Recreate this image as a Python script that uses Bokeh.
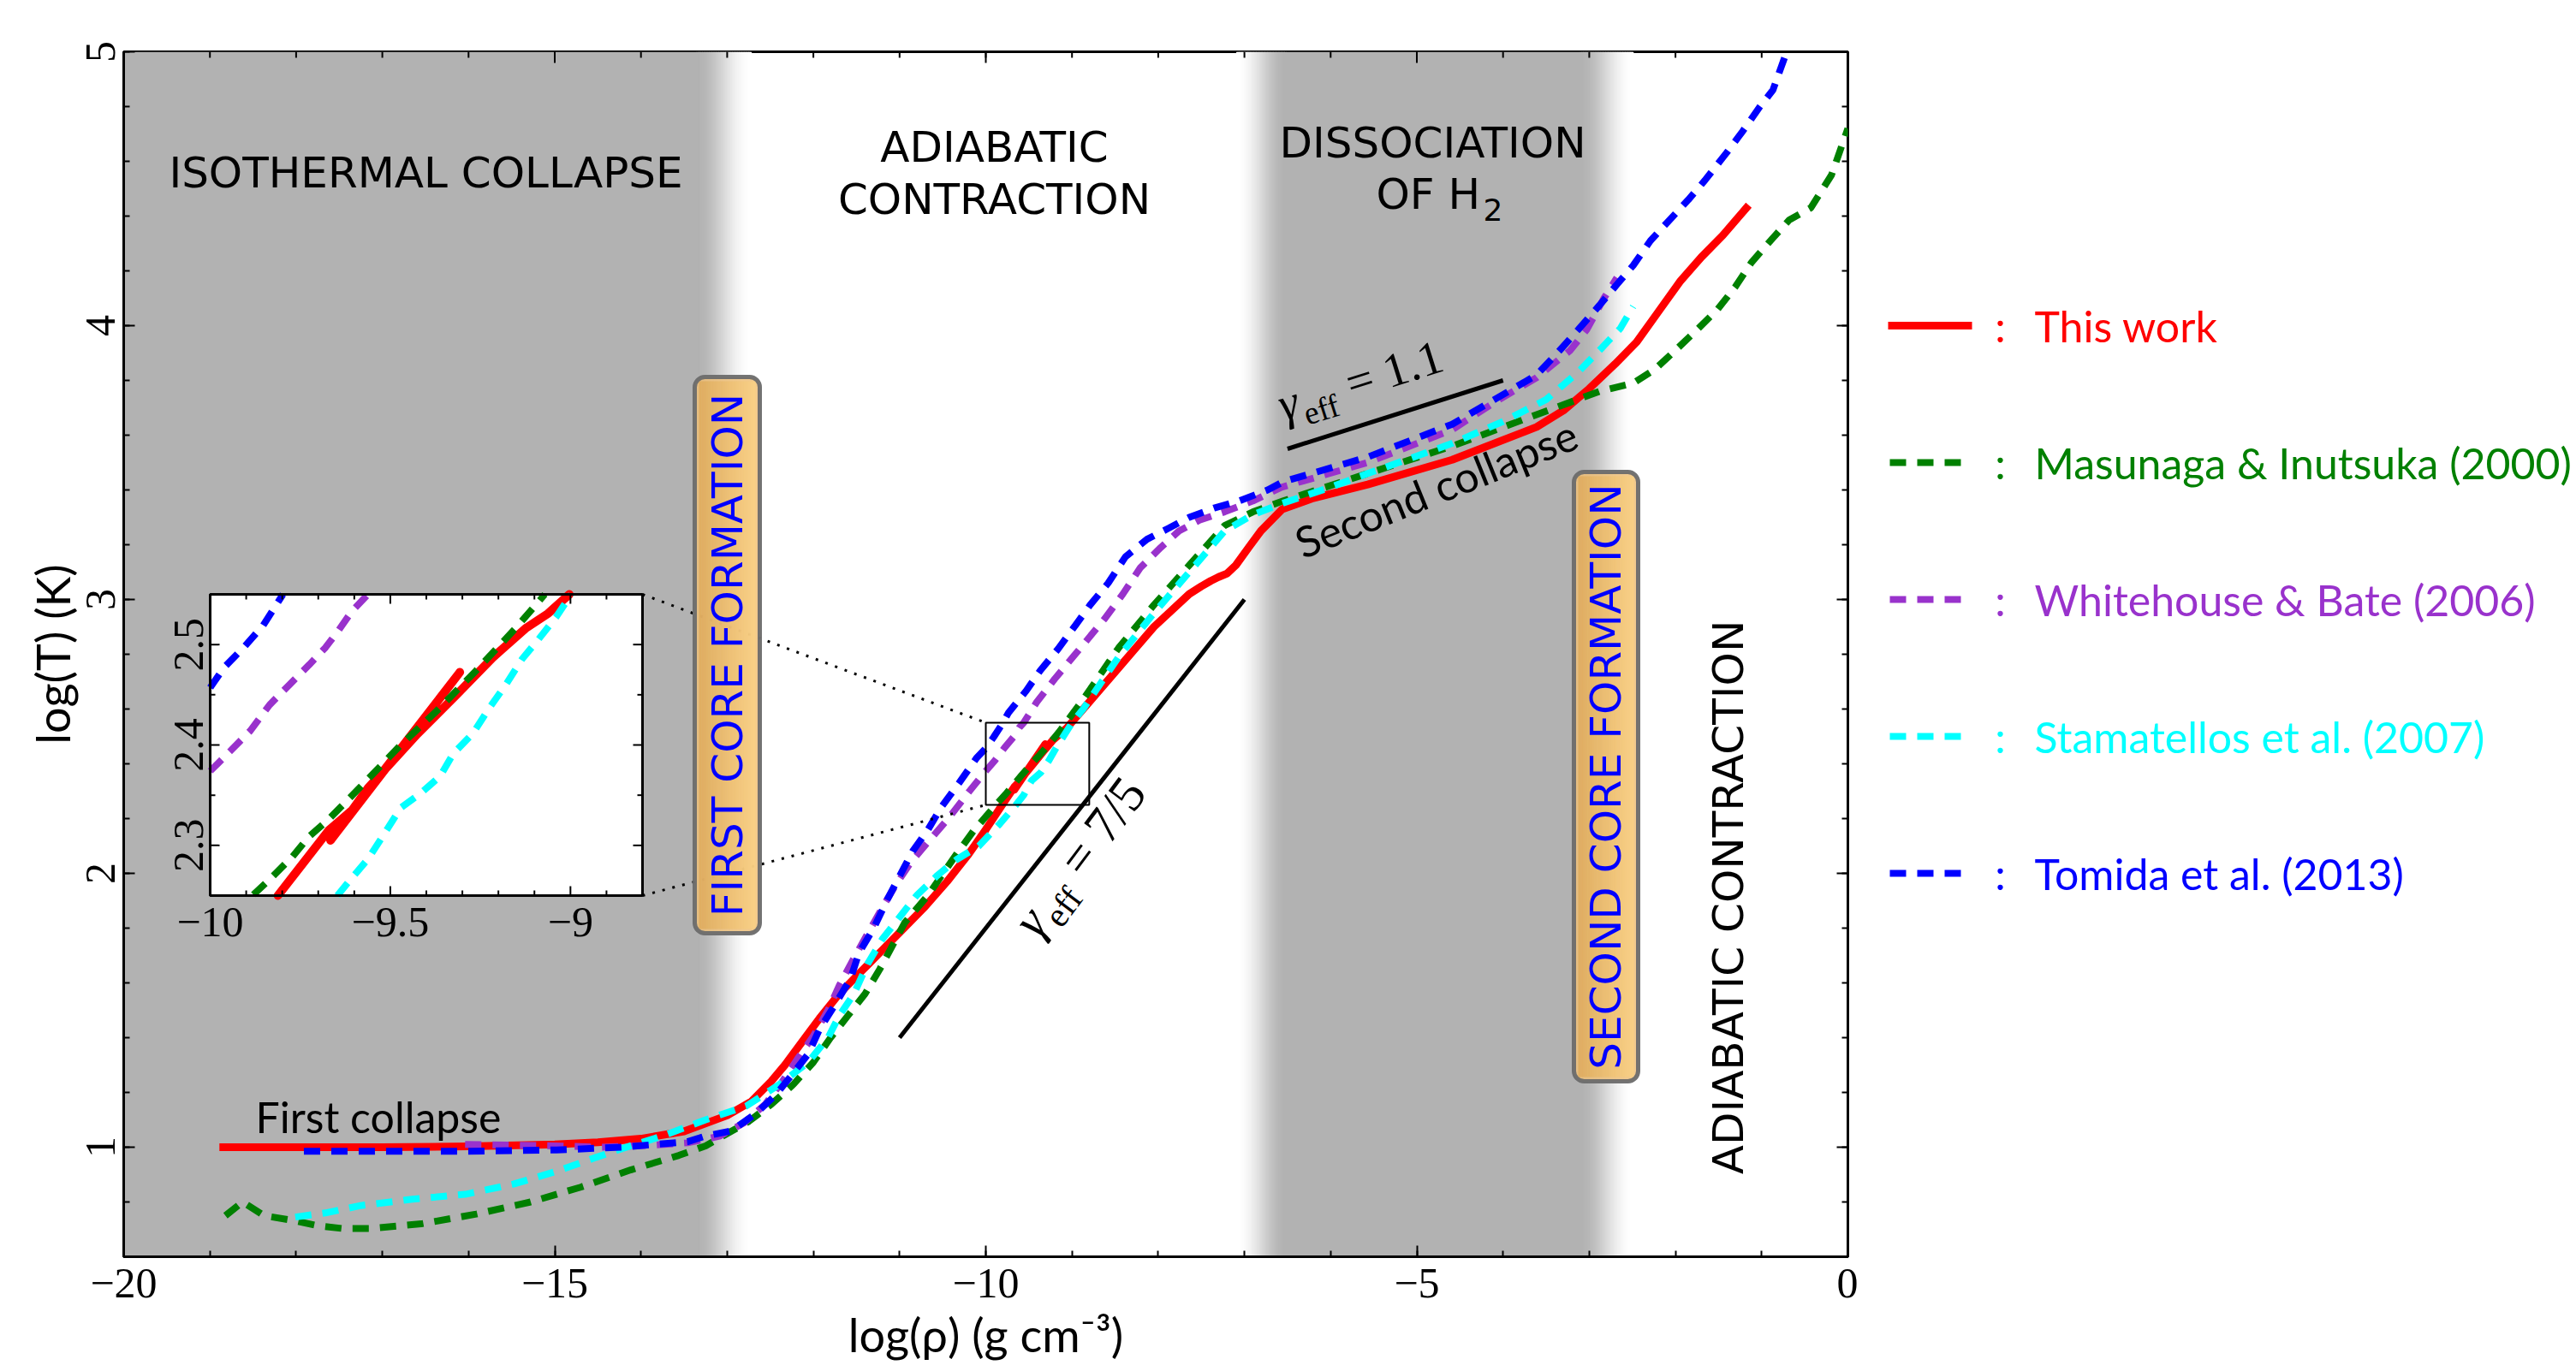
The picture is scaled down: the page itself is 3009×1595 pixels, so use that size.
import math
import numpy as np
from bokeh.plotting import figure
from bokeh.models import Range1d, FixedTicker, Label, CustomJSTickFormatter
from bokeh.layouts import row
from bokeh.embed import file_html
from bokeh.resources import INLINE
from bokeh.core.properties import value

# ---------------- data ----------------
this_work_x = [-18.89, -17.0, -16.0, -15.0, -14.5, -14.0, -13.5, -13.0, -12.72, -12.49, -12.33,
               -12.13, -11.93, -11.70, -11.45, -11.20, -10.95, -10.70, -10.45, -10.20, -10.0,
               -9.81, -9.67, -9.60, -9.31, -9.67, -9.56, -9.42, -9.32, -9.22, -9.06, -8.87,
               -8.46, -8.05, -7.64, -7.50, -7.39, -7.30, -7.20, -7.10, -6.95, -6.81, -6.56,
               -6.20, -5.57, -4.59, -3.61, -3.30, -3.00, -2.70, -2.45, -2.20, -1.95, -1.70,
               -1.45, -1.15]
this_work_y = [1.0, 1.0, 1.003, 1.01, 1.018, 1.031, 1.058, 1.116, 1.167, 1.24, 1.30,
               1.385, 1.47, 1.56, 1.64, 1.72, 1.80, 1.88, 1.97, 2.07, 2.16,
               2.25, 2.315, 2.338, 2.472, 2.305, 2.357, 2.411, 2.45, 2.487, 2.531, 2.60,
               2.75, 2.90, 3.02, 3.048, 3.068, 3.082, 3.095, 3.125, 3.19, 3.25, 3.33,
               3.37, 3.42, 3.51, 3.63, 3.69, 3.77, 3.86, 3.94, 4.05, 4.16, 4.25,
               4.33, 4.44]

masunaga_x = [-18.82, -18.62, -18.37, -18.06, -17.76, -17.46, -17.15, -16.55, -15.91, -15.28,
              -14.70, -14.12, -13.56, -13.25, -12.75, -12.49, -12.23, -12.0, -11.80, -11.60,
              -11.40, -11.23, -10.94, -10.67, -10.34, -10.14, -9.88, -9.77, -9.67, -9.58,
              -9.47, -9.37, -9.26, -9.15, -9.07, -8.87, -8.46, -8.05, -7.64, -7.23, -6.90,
              -6.55, -5.57, -4.59, -3.61, -2.88, -2.49, -2.24, -2.0, -1.75, -1.51, -1.31,
              -1.12, -0.87, -0.68, -0.43, -0.19, 0.0]
masunaga_y = [0.75, 0.80, 0.75, 0.734, 0.714, 0.703, 0.703, 0.72, 0.756, 0.80,
              0.854, 0.917, 0.97, 1.005, 1.094, 1.156, 1.23, 1.31, 1.40, 1.48,
              1.56, 1.65, 1.82, 1.92, 2.07, 2.156, 2.251, 2.289, 2.326, 2.36,
              2.40, 2.434, 2.474, 2.516, 2.55, 2.635, 2.823, 2.98, 3.125, 3.27, 3.32,
              3.36, 3.46, 3.56, 3.675, 3.76, 3.79, 3.84, 3.91, 3.985, 4.06, 4.14,
              4.23, 4.32, 4.386, 4.43, 4.55, 4.72]

whitehouse_x = [-16.04, -15.0, -14.47, -13.96, -13.46, -13.09, -12.80, -12.56, -12.36, -12.19,
                -12.0, -11.83, -11.70, -11.53, -11.37, -11.20, -11.04, -10.87, -10.67, -10.44,
                -10.19, -10.0, -9.89, -9.78, -9.68, -9.61, -9.56, -9.41, -9.20, -8.91, -8.62,
                -8.41, -8.21, -7.97, -7.76, -7.52, -7.23, -6.90, -6.57, -5.57, -4.59, -4.10,
                -3.61, -3.22, -3.03, -2.83, -2.68]
whitehouse_y = [1.01, 1.005, 1.0, 1.006, 1.016, 1.04, 1.09, 1.156, 1.24, 1.32,
                1.406, 1.50, 1.59, 1.69, 1.78, 1.875, 1.96, 2.04, 2.115, 2.198,
                2.30, 2.374, 2.414, 2.46, 2.497, 2.533, 2.55, 2.625, 2.71, 2.82, 2.93,
                3.02, 3.115, 3.19, 3.25, 3.29, 3.32, 3.36, 3.41, 3.50, 3.62, 3.72,
                3.81, 3.91, 3.985, 4.10, 4.175]

stamatellos_x = [-18.01, -17.66, -17.25, -16.65, -16.04, -15.48, -14.98, -14.52, -14.22, -13.76,
                 -13.25, -12.78, -12.39, -12.06, -11.83, -11.70, -11.53, -11.37, -11.20, -11.0,
                 -10.80, -10.57, -10.34, -10.08, -9.84, -9.65, -9.56, -9.47, -9.36, -9.27,
                 -9.18, -9.09, -9.00, -8.87, -8.46, -8.05, -7.64, -7.23, -6.90, -6.57, -6.0,
                 -5.57, -4.59, -4.0, -3.5, -3.13, -2.85, -2.64, -2.49]
stamatellos_y = [0.745, 0.76, 0.787, 0.81, 0.828, 0.865, 0.912, 0.963, 0.995, 1.04,
                 1.10, 1.15, 1.23, 1.31, 1.40, 1.48, 1.56, 1.67, 1.76, 1.84,
                 1.92, 1.99, 2.05, 2.10, 2.18, 2.25, 2.286, 2.338, 2.369, 2.411,
                 2.46, 2.505, 2.55, 2.60, 2.79, 2.95, 3.10, 3.25, 3.31, 3.35, 3.41,
                 3.46, 3.57, 3.65, 3.73, 3.83, 3.92, 3.99, 4.07]

tomida_x = [-17.91, -17.0, -16.0, -14.98, -14.22, -13.46, -13.26, -12.95, -12.66, -12.44,
            -12.26, -12.06, -11.93, -11.75, -11.57, -11.47, -11.30, -11.14, -11.0, -10.85,
            -10.67, -10.52, -10.31, -10.11, -10.0, -9.91, -9.80, -9.74, -9.53, -9.37,
            -9.16, -8.96, -8.79, -8.58, -8.38, -8.13, -7.88, -7.64, -7.35, -7.06, -6.73,
            -6.55, -5.57, -4.59, -4.10, -3.61, -3.37, -3.13, -2.88, -2.68, -2.49, -2.29,
            -2.10, -1.85, -1.66, -1.41, -1.22, -1.02, -0.87, -0.71]
tomida_y = [0.985, 0.985, 0.985, 0.99, 1.0, 1.02, 1.04, 1.06, 1.125, 1.19,
            1.26, 1.34, 1.43, 1.52, 1.615, 1.71, 1.80, 1.906, 1.99, 2.08,
            2.16, 2.24, 2.33, 2.42, 2.457, 2.497, 2.55, 2.585, 2.667, 2.74,
            2.82, 2.906, 2.98, 3.06, 3.156, 3.22, 3.26, 3.30, 3.334, 3.36, 3.40,
            3.43, 3.52, 3.64, 3.73, 3.82, 3.90, 3.985, 4.075, 4.15, 4.22, 4.31,
            4.375, 4.46, 4.53, 4.63, 4.71, 4.80, 4.86, 5.0]

# inset (zoom on -10 < log rho < -8.8, 2.25 < log T < 2.55)
inset_this_work_x = [-9.812, -9.671, -9.598, -9.307, -9.666, -9.562, -9.425, -9.316, -9.216,
                     -9.125, -9.062, -9.003]
inset_this_work_y = [2.25, 2.315, 2.3375, 2.4724, 2.305, 2.357, 2.411, 2.45, 2.487,
                     2.516, 2.531, 2.55]
inset_masunaga_x = [-9.880, -9.835, -9.771, -9.725, -9.671, -9.616, -9.562, -9.471, -9.371,
                    -9.262, -9.153, -9.071]
inset_masunaga_y = [2.251, 2.266, 2.289, 2.309, 2.326, 2.346, 2.366, 2.400, 2.434,
                    2.474, 2.516, 2.55]
inset_whitehouse_x = [-10.0, -9.944, -9.889, -9.835, -9.78, -9.725, -9.68, -9.644, -9.607, -9.562]
inset_whitehouse_y = [2.374, 2.394, 2.414, 2.44, 2.46, 2.48, 2.497, 2.514, 2.533, 2.55]
inset_stamatellos_x = [-9.647, -9.616, -9.562, -9.516, -9.471, -9.416, -9.362, -9.325, -9.271,
                       -9.225, -9.18, -9.135, -9.089, -9.039, -8.998]
inset_stamatellos_y = [2.25, 2.2636, 2.2864, 2.3119, 2.3375, 2.3517, 2.3688, 2.3915, 2.4114,
                       2.4369, 2.4597, 2.4852, 2.5051, 2.5278, 2.55]
inset_tomida_x = [-10.0, -9.962, -9.907, -9.853, -9.798]
inset_tomida_y = [2.457, 2.477, 2.497, 2.519, 2.55]

# reference slopes
gamma_11_x = [-6.5, -4.0]
gamma_11_y = [3.55, 3.80]
gamma_75_x = [-11.0, -7.0]
gamma_75_y = [1.40, 3.00]

series_names = ["This work", "Masunaga & Inutsuka (2000)", "Whitehouse & Bate (2006)",
                "Stamatellos et al. (2007)", "Tomida et al. (2013)"]
series_colors = ["#ff0000", "#008000", "#9932cc", "#00ffff", "#0000ff"]

x_major_ticks = [-20, -15, -10, -5, 0]
y_major_ticks = [1, 2, 3, 4, 5]
inset_x_ticks = [-10, -9.5, -9]
inset_y_ticks = [2.3, 2.4, 2.5]

# ---------------- layout constants ----------------
X_RANGE = (-20.0, 0.0)
Y_RANGE = (0.6, 5.0)
INSET_XR = (-10.0, -8.8)
INSET_YR = (2.25, 2.55)
FRAME_L, FRAME_T, FRAME_W, FRAME_H = 144, 60, 2014, 1408
MAIN_W, TOTAL_H = 2170, 1595
LEG_W = 3009 - MAIN_W
SX = FRAME_W / (X_RANGE[1] - X_RANGE[0])
SY = FRAME_H / (Y_RANGE[1] - Y_RANGE[0])


def dx(px):
    return X_RANGE[0] + (px - FRAME_L) / SX


def dy(py):
    return Y_RANGE[1] - (py - FRAME_T) / SY


INSET_X0, INSET_X1 = dx(245), dx(750)
INSET_Y0, INSET_Y1 = dy(1046), dy(694)

GREY = "#b2b2b2"
DASH = "19 13"
TICK_FONT = "Liberation Serif"

p = figure(width=MAIN_W, height=TOTAL_H, x_range=Range1d(*X_RANGE), y_range=Range1d(*Y_RANGE),
           output_backend="svg", toolbar_location=None,
           min_border_left=FRAME_L, min_border_top=FRAME_T,
           min_border_right=MAIN_W - FRAME_L - FRAME_W,
           min_border_bottom=TOTAL_H - FRAME_T - FRAME_H)
p.background_fill_color = "white"
p.border_fill_color = "white"
p.outline_line_color = "black"
p.outline_line_width = 3
p.xgrid.visible = False
p.ygrid.visible = False

x_minor = [float(v) for v in np.arange(-20, 0.5, 1.0)]
y_minor = [round(float(v), 2) for v in np.arange(0.6, 5.01, 0.2)]
fmt = CustomJSTickFormatter(code="return (tick < 0 ? '\u2212' : '') + Math.abs(tick).toString();")

bottom_axis = p.below[0]
left_axis = p.left[0]
bottom_axis.ticker = FixedTicker(ticks=x_major_ticks, minor_ticks=x_minor)
left_axis.ticker = FixedTicker(ticks=y_major_ticks, minor_ticks=y_minor)
for ax in (bottom_axis, left_axis):
    ax.formatter = fmt
    ax.major_tick_in = 13
    ax.major_tick_out = 0
    ax.minor_tick_in = 7
    ax.minor_tick_out = 0
    ax.major_tick_line_width = 2
    ax.minor_tick_line_width = 2
    ax.axis_line_width = 3
    ax.major_label_text_font = TICK_FONT
    ax.major_label_text_font_size = "50px"
    ax.major_label_text_color = "black"
    ax.axis_label_text_font = "Lato"
    ax.axis_label_text_font_size = "54px"
    ax.axis_label_text_font_style = "normal"
    ax.axis_label_text_color = "black"
bottom_axis.major_label_standoff = 14
bottom_axis.axis_label = "log(\u03c1) (g cm\u207b\u00b3)"
bottom_axis.axis_label_standoff = 8
left_axis.major_label_orientation = "parallel"
left_axis.major_label_standoff = 11
left_axis.axis_label = "log(T) (K)"
left_axis.axis_label_standoff = 4

# ---------------- grey bands with soft edges ----------------
def band(x_a, x_b):
    p.quad(left=[x_a], right=[x_b], bottom=[Y_RANGE[0]], top=[Y_RANGE[1]],
           fill_color=GREY, line_color=None)


def ramp(c0, c1, n):
    t = (np.arange(n) + 0.5) / n
    a = [int(c0[i:i + 2], 16) for i in (1, 3, 5)]
    b = [int(c1[i:i + 2], 16) for i in (1, 3, 5)]
    return t, ["#%02x%02x%02x" % tuple(int(round(a[k] + (b[k] - a[k]) * v)) for k in range(3)) for v in t]


def fade(x_grey, x_white, n=40):
    xs = np.linspace(x_grey, x_white, n + 1)
    t = (np.arange(n) + 0.5) / n
    s = t * t * (3 - 2 * t)
    g0 = int(GREY[1:3], 16)
    cols = ["#%02x%02x%02x" % ((int(round(g0 + (255 - g0) * v)),) * 3) for v in s]
    lefts = np.minimum(xs[:-1], xs[1:])
    rights = np.maximum(xs[:-1], xs[1:])
    w = abs(xs[1] - xs[0]) * 0.35
    p.quad(left=lefts - w, right=rights + w, bottom=Y_RANGE[0], top=Y_RANGE[1],
           fill_color=cols, line_color=None)


band(-20.0, -13.35)
fade(-13.35, -12.72)
fade(-6.52, -7.09)
band(-6.52, -3.10)
fade(-3.10, -2.49)

# ---------------- mirror ticks (top, right), inward ----------------
tx0, ty0, tx1, ty1 = [], [], [], []
for vals, L in ((x_major_ticks, 13), (x_minor, 7)):
    for v in vals:
        tx0.append(v); tx1.append(v)
        ty0.append(Y_RANGE[1]); ty1.append(Y_RANGE[1] - L / SY)
for vals, L in ((y_major_ticks, 13), (y_minor, 7)):
    for v in vals:
        ty0.append(v); ty1.append(v)
        tx0.append(X_RANGE[1]); tx1.append(X_RANGE[1] - L / SX)
p.segment(x0=tx0, y0=ty0, x1=tx1, y1=ty1, line_color="black", line_width=2)

# ---------------- reference slopes ----------------
p.line(gamma_11_x, gamma_11_y, line_color="black", line_width=5)
p.line(gamma_75_x, gamma_75_y, line_color="black", line_width=5)

# ---------------- curves ----------------
main_series = [(this_work_x, this_work_y), (masunaga_x, masunaga_y), (whitehouse_x, whitehouse_y),
               (stamatellos_x, stamatellos_y), (tomida_x, tomida_y)]
for i, ((xs, ys), col) in enumerate(zip(main_series, series_colors)):
    if i == 0:
        p.line(xs, ys, line_color=col, line_width=9, line_join="round")
    else:
        p.line(xs, ys, line_color=col, line_width=8, line_dash=DASH)

# zoom rectangle + connectors
p.quad(left=[INSET_XR[0]], right=[INSET_XR[1]], bottom=[INSET_YR[0]], top=[INSET_YR[1]],
       fill_color=None, line_color="black", line_width=2)
p.line([INSET_X1, INSET_XR[0]], [INSET_Y1, INSET_YR[1]], line_color="black", line_width=3, line_dash="3 9")
p.line([INSET_X1, INSET_XR[0]], [INSET_Y0, INSET_YR[0]], line_color="black", line_width=3, line_dash="3 9")

# ---------------- inset ----------------
ins = p.subplot(x_source=Range1d(*INSET_XR), y_source=Range1d(*INSET_YR),
                x_target=Range1d(INSET_X0, INSET_X1), y_target=Range1d(INSET_Y0, INSET_Y1))
ins.quad(left=[INSET_XR[0]], right=[INSET_XR[1]], bottom=[INSET_YR[0]], top=[INSET_YR[1]],
         fill_color="white", line_color=None)
inset_series = [(inset_this_work_x, inset_this_work_y), (inset_masunaga_x, inset_masunaga_y),
                (inset_whitehouse_x, inset_whitehouse_y), (inset_stamatellos_x, inset_stamatellos_y),
                (inset_tomida_x, inset_tomida_y)]
for i, ((xs, ys), col) in enumerate(zip(inset_series, series_colors)):
    if i == 0:
        ins.line(xs, ys, line_color=col, line_width=10, line_join="round", line_cap="round")
    else:
        ins.line(xs, ys, line_color=col, line_width=8, line_dash=DASH)

ipx = (INSET_XR[1] - INSET_XR[0]) / ((INSET_X1 - INSET_X0) * SX)   # inset x units per px
ipy = (INSET_YR[1] - INSET_YR[0]) / ((INSET_Y1 - INSET_Y0) * SY)   # inset y units per px
xt_minor = [round(float(v), 2) for v in np.arange(-9.9, -8.85, 0.1)]
xt_minor = [v for v in xt_minor if v not in (-9.5, -9.0)]
yt_minor = [2.35, 2.45]
sx0, sy0, sx1, sy1 = [], [], [], []
for vals, L in ((inset_x_ticks, 11), (xt_minor, 6)):
    for v in vals:
        sx0 += [v, v]; sx1 += [v, v]
        sy0 += [INSET_YR[0], INSET_YR[1]]
        sy1 += [INSET_YR[0] + L * ipy, INSET_YR[1] - L * ipy]
for vals, L in ((inset_y_ticks, 11), (yt_minor, 6)):
    for v in vals:
        sy0 += [v, v]; sy1 += [v, v]
        sx0 += [INSET_XR[0], INSET_XR[1]]
        sx1 += [INSET_XR[0] + L * ipx, INSET_XR[1] - L * ipx]
ins.segment(x0=sx0, y0=sy0, x1=sx1, y1=sy1, line_color="black", line_width=2)
ins.quad(left=[INSET_XR[0]], right=[INSET_XR[1]], bottom=[INSET_YR[0]], top=[INSET_YR[1]],
         fill_color=None, line_color="black", line_width=3)


def tick_text(v):
    s = ("%g" % abs(v))
    return ("\u2212" + s) if v < 0 else s


ins.text(x=inset_x_ticks, y=[INSET_YR[0] - 31 * ipy] * len(inset_x_ticks),
         text=[tick_text(v) for v in inset_x_ticks], text_align="center", text_baseline="middle",
         text_font=value(TICK_FONT), text_font_size="50px", text_color="black")
ins.text(x=[INSET_XR[0] - 25 * ipx] * len(inset_y_ticks), y=inset_y_ticks,
         text=[tick_text(v) for v in inset_y_ticks], angle=math.pi / 2,
         text_align="center", text_baseline="middle",
         text_font=value(TICK_FONT), text_font_size="50px", text_color="black")

# ---------------- phase-transition boxes (gradient fill, rounded border) ----------------
def phase_box(px0, px1, py0, py1, text):
    x0, x1, y0, y1 = dx(px0), dx(px1), dy(py1), dy(py0)
    p.quad(left=[x0], right=[x1], bottom=[y0], top=[y1], fill_color="#eec079", fill_alpha=0.85,
           line_color=None, border_radius=12)
    n = 24
    inset_x, inset_y = 5 / SX, 5 / SY
    xs = np.linspace(x0 + inset_x, x1 - inset_x, n + 1)
    _, cols = ramp("#ddaa5c", "#fad185", n)
    p.quad(left=xs[:-1], right=xs[1:] + 0.2 / SX, bottom=y0 + inset_y, top=y1 - inset_y,
           fill_color=cols, fill_alpha=0.85, line_color=None)
    p.quad(left=[x0], right=[x1], bottom=[y0], top=[y1], fill_color=None,
           line_color="#6b6b6b", line_width=5, line_alpha=0.95, border_radius=12)
    p.add_layout(Label(x=(x0 + x1) / 2, y=(y0 + y1) / 2, text=text, angle=math.pi / 2,
                       text_align="center", text_baseline="middle", text_font="DejaVu Sans",
                       text_font_size="50px", text_color="#0000ff"))


phase_box(811, 887, 440, 1090, "FIRST CORE FORMATION")
phase_box(1838, 1913, 551, 1263, "SECOND CORE FORMATION")

# ---------------- annotations ----------------
def lab(x, y, text, size=50, font="DejaVu Sans", color="black", angle=0.0, align="center",
        baseline="alphabetic", style="normal"):
    if baseline == "alphabetic":
        sh = 0.38 * size
        x += -math.sin(angle) * sh / SX
        y += math.cos(angle) * sh / SY
    p.add_layout(Label(x=x, y=y, text=text, text_font=font, text_font_size=f"{size}px",
                       text_color=color, angle=angle, text_align=align, text_baseline=baseline,
                       text_font_style=style))


lab(dx(497), dy(220), "ISOTHERMAL COLLAPSE")
lab(dx(1161), dy(190), "ADIABATIC")
lab(dx(1161), dy(251), "CONTRACTION")
lab(dx(1673), dy(185), "DISSOCIATION")
lab(dx(1607), dy(245), "OF H", align="left")
lab(dx(1732), dy(258), "2", size=36, align="left")
lab(dx(2018), dy(1048), "ADIABATIC CONTRACTION", angle=math.pi / 2, baseline="middle")
lab(dx(298), dy(1323), "First collapse", size=50, font="Lato", align="left")
lab(dx(1677), dy(570), "Second collapse", size=50, font="Lato", angle=math.radians(22),
    baseline="middle")


def gamma_label(x, y, deg, rhs, size=56):
    th = math.radians(deg)
    ux, uy = math.cos(th), math.sin(th)
    k = size / 56.0

    def at(a, d):
        return (x + (a * ux + d * uy) / SX, y + (a * uy - d * ux) / SY)

    lab(x, y, "\u03b3", size=size, font="Liberation Serif", style="italic", angle=th, align="left")
    ex, ey = at(25 * k, 12 * k)
    lab(ex, ey, "eff", size=int(round(38 * k)), font="Liberation Serif", angle=th, align="left")
    rx, ry = at((25 + 44 + 14) * k, 0)
    lab(rx, ry, rhs, size=size, font="Liberation Serif", angle=th, align="left")


gamma_label(dx(1500), dy(494), 17.5, "= 1.1")
gamma_label(dx(1214), dy(1100), 53.0, "= 7/5", size=60)

# ---------------- legend panel ----------------
LEG_BOTTOM = TOTAL_H - FRAME_T - FRAME_H
leg = figure(width=LEG_W, height=TOTAL_H, x_range=Range1d(0, LEG_W),
             y_range=Range1d(FRAME_T + FRAME_H, FRAME_T),
             output_backend="svg", toolbar_location=None, x_axis_location=None,
             y_axis_location=None, min_border_left=0, min_border_right=0,
             min_border_top=FRAME_T, min_border_bottom=LEG_BOTTOM)
leg.outline_line_color = None
leg.background_fill_color = "white"
leg.border_fill_color = "white"
leg.xgrid.visible = False
leg.ygrid.visible = False

LEG_ROW0, LEG_DY = 380, 160
rows_y = [LEG_ROW0 + i * LEG_DY for i in range(len(series_names))]
for i, (yy, col) in enumerate(zip(rows_y, series_colors)):
    if i == 0:
        leg.segment(x0=[35], y0=[yy], x1=[133], y1=[yy], line_color=col, line_width=9)
    else:
        leg.segment(x0=[37], y0=[yy], x1=[124], y1=[yy], line_color=col, line_width=8, line_dash=DASH)
leg.text(x=[166] * len(rows_y), y=rows_y, text=[":"] * len(rows_y), text_color=series_colors,
         text_align="center", text_baseline="middle", text_font=value("Lato"), text_font_size="50px")
leg.text(x=[206] * len(rows_y), y=rows_y, text=series_names, text_color=series_colors,
         text_align="left", text_baseline="middle", text_font=value("Lato"), text_font_size="50px")

layout = row(p, leg)
with open("out.html", "w", encoding="utf-8") as f:
    f.write(file_html(layout, INLINE))
